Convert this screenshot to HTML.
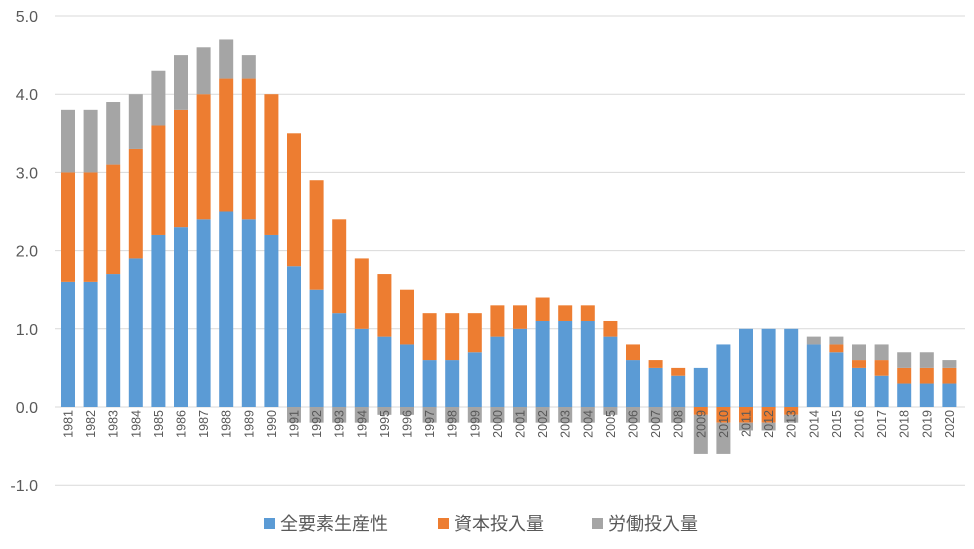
<!DOCTYPE html>
<html><head><meta charset="utf-8"><style>
html,body{margin:0;padding:0;background:#fff}
svg{display:block;font-family:"Liberation Sans","Noto Sans CJK JP",sans-serif}
</style></head><body>
<svg id="chart" width="974" height="549" viewBox="0 0 974 549">
<g id="grid"></g>
<g id="yaxis"></g>
<g id="bars"></g>
<g id="xaxis"></g>
<g id="legend">
<rect x="264" y="518" width="11" height="11" fill="#5B9BD5"/>
<text x="280" y="530" font-size="18" fill="#595959">全要素生産性</text>
<rect x="438" y="518" width="11" height="11" fill="#ED7D31"/>
<text x="454" y="530" font-size="18" fill="#595959">資本投入量</text>
<rect x="592" y="518" width="11" height="11" fill="#A5A5A5"/>
<text x="608" y="530" font-size="18" fill="#595959">労働投入量</text>
</g>
</svg>
<script>
const years = [1981,1982,1983,1984,1985,1986,1987,1988,1989,1990,1991,1992,1993,1994,1995,1996,1997,1998,1999,2000,2001,2002,2003,2004,2005,2006,2007,2008,2009,2010,2011,2012,2013,2014,2015,2016,2017,2018,2019,2020];
const tfp = [1.6,1.6,1.7,1.9,2.2,2.3,2.4,2.5,2.4,2.2,1.8,1.5,1.2,1.0,0.9,0.8,0.6,0.6,0.7,0.9,1.0,1.1,1.1,1.1,0.9,0.6,0.5,0.4,0.5,0.8,1.0,1.0,1.0,0.8,0.7,0.5,0.4,0.3,0.3,0.3];
const capital = [1.4,1.4,1.4,1.4,1.4,1.5,1.6,1.7,1.8,1.8,1.7,1.4,1.2,0.9,0.8,0.7,0.6,0.6,0.5,0.4,0.3,0.3,0.2,0.2,0.2,0.2,0.1,0.1,-0.1,-0.2,-0.2,-0.2,-0.1,0,0.1,0.1,0.2,0.2,0.2,0.2];
const labor = [0.8,0.8,0.8,0.7,0.7,0.7,0.6,0.5,0.3,0,-0.2,-0.2,-0.2,-0.2,-0.1,-0.1,-0.2,-0.2,-0.2,-0.2,-0.2,-0.2,-0.2,-0.2,-0.1,-0.2,-0.2,-0.2,-0.5,-0.4,-0.1,-0.1,-0.1,0.1,0.1,0.2,0.2,0.2,0.2,0.1];
const yTicks = [-1.0,0.0,1.0,2.0,3.0,4.0,5.0];

const NS="http://www.w3.org/2000/svg";
const y0=407, unit=78.2;
const yScale=v=>y0-v*unit;
const x0=68, step=22.6, bw=14;
const xScale=i=>x0+i*step;
function mk(tag,attrs,parent){const e=document.createElementNS(NS,tag);for(const k in attrs)e.setAttribute(k,attrs[k]);parent.appendChild(e);return e;}
const grid=document.getElementById('grid'),yax=document.getElementById('yaxis'),bars=document.getElementById('bars'),xax=document.getElementById('xaxis');
yTicks.forEach(t=>{
  const l=mk('line',{x1:55,x2:965,y1:yScale(t),y2:yScale(t),stroke:'#d9d9d9','stroke-width':1},grid);
  
  
  const tx=mk('text',{x:38,y:yScale(t)+6,'text-anchor':'end','font-size':16,fill:'#595959'},yax);
  tx.textContent=t.toFixed(1);
  
  
});
const series=[[tfp,'#5B9BD5','tfp'],[capital,'#ED7D31','capital'],[labor,'#A5A5A5','labor']];
years.forEach((yr,i)=>{
  let pos=0,neg=0;
  series.forEach(([arr,col,nm])=>{
    const v=arr[i]; if(!v) return;
    let a,b;
    if(v>0){a=pos;b=pos+v;pos=b;}else{a=neg;b=neg+v;neg=b;}
    const top=yScale(Math.max(a,b)),bot=yScale(Math.min(a,b));
    const r=mk('rect',{x:xScale(i)-bw/2,y:top,width:bw,height:bot-top,fill:col},bars);
    
    
  });
  const x=xScale(i)+4.5;
  const t=mk('text',{x:x,y:410,transform:`rotate(-90 ${x} 410)`,'text-anchor':'end','font-size':12.5,fill:'#595959'},xax);
  t.textContent=yr;
  
  
});
</script>
</body></html>
